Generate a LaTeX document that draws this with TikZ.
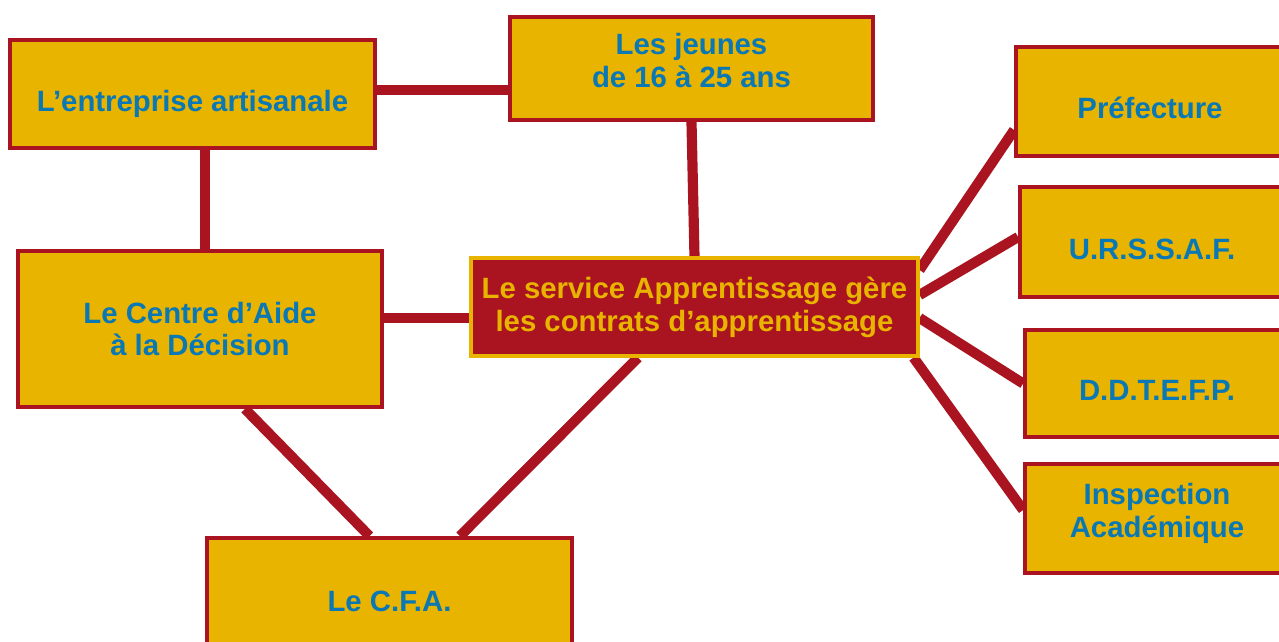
\documentclass[tikz,border=0pt]{standalone}
\usepackage{fontspec}
\setmainfont{Liberation Sans}
\usetikzlibrary{positioning,backgrounds}
\definecolor{boxyellow}{RGB}{232,180,0}
\definecolor{boxred}{RGB}{170,20,32}
\definecolor{textblue}{RGB}{10,120,180}

\begin{document}
\begin{tikzpicture}[x=0.02cm,y=-0.02cm,
        partner/.style={rectangle,draw=boxred,fill=boxyellow,line width=2.2pt,align=center,text=textblue,font=\fontsize{16.7}{18.7}\selectfont\bfseries,inner sep=0pt},
        service/.style={partner,draw=boxyellow,fill=boxred,text=boxyellow,line width=1.8pt},
        oneline/.style={text height=22.5pt,text depth=3pt},
        twolines/.style={text height=24.7pt,text depth=3pt},
        link/.style={draw=boxred,line width=5.8pt}
    ]
    \useasboundingbox (0,0) rectangle (1279,642);
    \clip (0,0) rectangle (1279,642);
    \node[partner,oneline,minimum width=7.3cm,minimum height=2.16cm] (entreprise) at (192.5,94) {L’entreprise artisanale};
    \node[partner,twolines,minimum width=7.26cm,minimum height=2.06cm] (jeunes) at (691.5,68.5) {Les jeunes\\de 16 à 25 ans};
    \node[partner,minimum width=7.28cm,minimum height=3.12cm] (cad) at (200,329) {Le Centre d’Aide\\à la Décision};
    \node[service,minimum width=8.94cm,minimum height=1.96cm] (service) at (694.5,307) {Le service Apprentissage gère\\les contrats d’apprentissage};
    \node[partner,oneline,minimum width=7.3cm,minimum height=2.24cm] (cfa) at (389.5,594) {Le C.F.A.};
    \node[partner,oneline,minimum width=5.36cm,minimum height=2.18cm] (prefecture) at (1150,101.5) {Préfecture};
    \node[partner,oneline,minimum width=5.28cm,minimum height=2.2cm] (urssaf) at (1152,242) {U.R.S.S.A.F.};
    \node[partner,oneline,minimum width=5.28cm,minimum height=2.14cm] (ddtefp) at (1157,383.5) {D.D.T.E.F.P.};
    \node[partner,twolines,minimum width=5.28cm,minimum height=2.18cm] (inspection) at (1157,518.5) {Inspection\\Académique};

    \begin{scope}[on background layer]
        \fill[white] (0,0) rectangle (1279,642);
        \path[link] ([yshift=0.08cm]entreprise.east) -- ([yshift=0.08cm]entreprise.east -| jeunes.west);
        \path[link] ([xshift=0.25cm]entreprise.south) -- ([xshift=0.25cm]entreprise.south |- cad.north);
        \path[link] (jeunes.south) -- (service.north);
        \path[link] ([yshift=-0.22cm]service.west) -- ([yshift=-0.22cm]service.west -| cad.east);
        \path[link] ([xshift=0.9cm]cad.south) -- ([xshift=-0.4cm]cfa.north);
        \path[link] ([xshift=-1.13cm]service.south) -- ([xshift=1.41cm]cfa.north);
        \path[link] ([yshift=0.74cm]service.east) -- ([yshift=-0.57cm]prefecture.west);
        \path[link] ([yshift=0.24cm]service.east) -- ([yshift=0.1cm]urssaf.west);
        \path[link] ([yshift=-0.22cm]service.east) -- (ddtefp.west);
        \path[link] ([xshift=-0.12cm]service.south east) -- ([yshift=0.17cm]inspection.west);
    \end{scope}
\end{tikzpicture}
\end{document}
